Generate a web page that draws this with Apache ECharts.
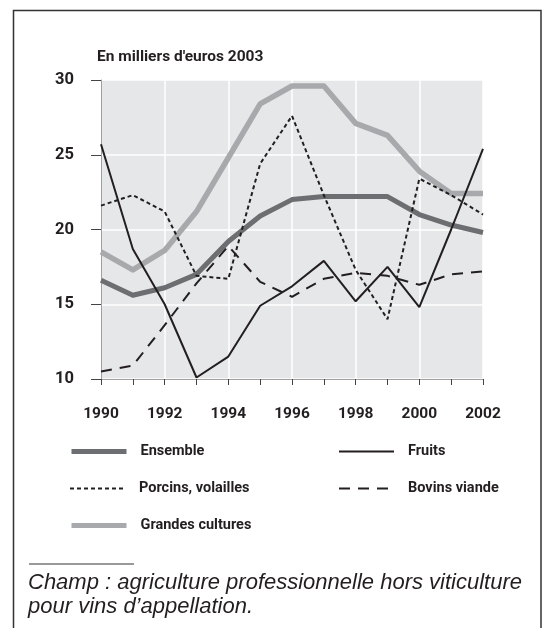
<!DOCTYPE html>
<html>
<head>
<meta charset="utf-8">
<script src="https://cdn.jsdelivr.net/npm/echarts@6/dist/echarts.min.js"></script>
<style>
html,body{margin:0;padding:0;background:#fff;}
#chart{width:546px;height:628px;}
</style>
</head>
<body>
<div id="chart"></div>
<script>
var years = ['1990','1991','1992','1993','1994','1995','1996','1997','1998','1999','2000','2001','2002'];
var ensemble = [16.6, 15.6, 16.1, 17.0, 19.2, 20.9, 22.0, 22.2, 22.2, 22.2, 21.0, 20.3, 19.8];
var fruits = [25.7, 18.7, 15.0, 10.1, 11.5, 14.9, 16.2, 17.9, 15.2, 17.5, 14.8, 20.0, 25.4];
var porcins = [21.6, 22.3, 21.2, 16.9, 16.7, 24.4, 27.6, 22.3, 17.3, 14.0, 23.4, 22.3, 21.0];
var bovins = [10.5, 10.9, 13.6, 16.4, 18.9, 16.5, 15.5, 16.7, 17.1, 16.9, 16.3, 17.0, 17.2];
var grandes = [18.5, 17.3, 18.6, 21.2, 24.8, 28.4, 29.6, 29.6, 27.1, 26.3, 23.9, 22.4, 22.4];
var yTicks = [10, 15, 20, 25, 30];
var unitLabel = "En milliers d'euros 2003";
var note1 = "Champ : agriculture professionnelle hors viticulture";
var note2 = "pour vins d\u2019appellation.";

var condFont = "Roboto, 'Liberation Sans', sans-serif";
var chart = echarts.init(document.getElementById('chart'), null, {renderer:'canvas'});

function legendAt(name, left, top, width) {
  return {
    data: [name], left: left, top: top, padding: 0,
    itemWidth: 55, itemHeight: 14, selectedMode: false,
    itemStyle: {opacity: 0},
    lineStyle: {width: width},
    textStyle: {fontFamily: condFont, fontWeight: 'bold', fontSize: 14.5, color: '#231f20', padding: [0,0,0,9]}
  };
}

var option = {
  animation: false,
  backgroundColor: '#ffffff',
  title: {
    text: unitLabel, left: 97, top: 49, padding: 0,
    textStyle: {fontFamily: condFont, fontWeight: 'bold', fontSize: 15.5, color: '#231f20'}
  },
  grid: {left: 101, right: 63, top: 80, bottom: 249, backgroundColor: '#e6e7e8', show: true, borderWidth: 0},
  legend: [
    legendAt('Ensemble', 69, 444, 5),
    legendAt('Fruits', 338, 444, 2),
    legendAt('Porcins, volailles', 69, 481, 2),
    legendAt('Bovins viande', 338, 481, 2),
    legendAt('Grandes cultures', 69, 518, 5)
  ],
  xAxis: {
    type: 'category', data: years, boundaryGap: false,
    axisLine: {show: true, lineStyle: {color: '#a0a0a0', width: 1}},
    axisTick: {show: true, interval: 0, length: 6, lineStyle: {color: '#444', width: 1}},
    axisLabel: {interval: 1, margin: 27, fontFamily: condFont, fontWeight: 'bold', fontSize: 15.5, color: '#231f20'},
    splitLine: {show: true, interval: 1, lineStyle: {color: '#ffffff', width: 1.5}}
  },
  yAxis: {
    type: 'value', min: 10, max: 30, interval: 5,
    axisLine: {show: true, lineStyle: {color: '#a0a0a0', width: 1}},
    axisTick: {show: true, length: 10, lineStyle: {color: '#444', width: 1}},
    axisLabel: {margin: 27, fontFamily: condFont, fontWeight: 'bold', fontSize: 16.5, color: '#231f20'},
    splitLine: {show: true, lineStyle: {color: '#ffffff', width: 1.5}}
  },
  series: [
    {name: 'Grandes cultures', type: 'line', data: grandes, symbol: 'none', z: 2,
     lineStyle: {color: '#a7a9ac', width: 5.5, join: 'round'}, itemStyle: {color: '#a7a9ac'}},
    {name: 'Ensemble', type: 'line', data: ensemble, symbol: 'none', z: 3,
     lineStyle: {color: '#6d6e71', width: 5, join: 'round'}, itemStyle: {color: '#6d6e71'}},
    {name: 'Porcins, volailles', type: 'line', data: porcins, symbol: 'none', z: 4,
     lineStyle: {color: '#231f20', width: 2, type: [4, 3]}, itemStyle: {color: '#231f20'}},
    {name: 'Bovins viande', type: 'line', data: bovins, symbol: 'none', z: 4,
     lineStyle: {color: '#231f20', width: 2, type: [11, 8]}, itemStyle: {color: '#231f20'}},
    {name: 'Fruits', type: 'line', data: fruits, symbol: 'none', z: 5,
     lineStyle: {color: '#231f20', width: 2}, itemStyle: {color: '#231f20'}}
  ],
  graphic: [
    {type: 'polyline', silent: true, shape: {points: [[13.5, 628], [13.5, 10.5], [541, 10.5], [541, 628]]},
     style: {stroke: '#333333', lineWidth: 1.5, fill: null}},
    {type: 'line', silent: true, shape: {x1: 29, y1: 564, x2: 134, y2: 564}, style: {stroke: '#333333', lineWidth: 1}},
    {type: 'text', silent: true, left: 28, top: 572,
     style: {text: note1, font: "italic 22px 'Liberation Sans', Arial, sans-serif", fill: '#231f20'}},
    {type: 'text', silent: true, left: 28, top: 596,
     style: {text: note2, font: "italic 22px 'Liberation Sans', Arial, sans-serif", fill: '#231f20'}}
  ]
};
chart.setOption(option);
</script>
</body>
</html>
